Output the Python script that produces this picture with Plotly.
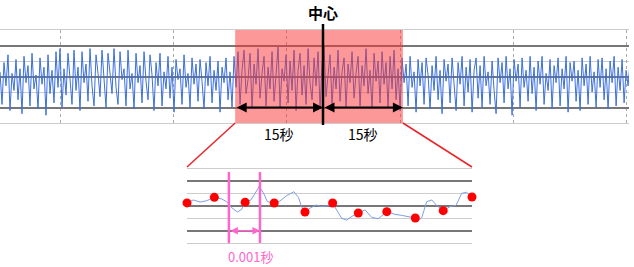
import numpy as np
import plotly.graph_objects as go

# ---------------- data ----------------
# top panel: vibration signal (one value every ~0.353 s)
signal = [
    0.3, -1.8, 0.9, -0.6, 1.4, -2.2, 0.2, -0.9, 1.1, -1.5,
    0.5, -2.4, 1.3, -0.4, 0.7, -1.9, 1.5, -0.8, 0.1, -2.1,
    1.2, -0.5, 0.6, -2.5, 1.4, -1.1, 0.4, -1.7, 1.6, -0.7,
    1.8, -2.0, 0.5, -1.2, 1.5, -0.3, -1.8, 1.7, -0.9, 0.6,
    -2.2, 1.6, -0.4, 0.8, -1.6, 1.8, -0.6, -1.9, 1.4, 0.2,
    -1.3, 1.7, -0.5, -2.0, 1.5, 0.3, -1.1, 1.8, -0.7, -1.8,
    1.6, -0.2, 0.5, -1.9, 1.7, -0.8, 0.2, -2.1, 1.5, -0.4,
    0.7, -1.7, 1.6, -0.3, -1.5, 1.4, 0.1, -2.2, 0.9, -0.6,
    1.5, -1.9, 0.3, -0.8, 1.3, -1.4, 0.6, -2.3, 1.1, -0.2,
    0.5, -1.8, 1.4, -0.7, 0.2, -2.0, 1.2, -0.5, 0.8, -1.6,
    1.1, -0.3, -2.1, 0.9, -0.6, 1.3, -1.7, 0.4, -0.9, 1.0,
    -2.3, 0.6, -0.4, 1.2, -1.5, 0.3, -2.0, 1.3, -0.7, 1.6,
    -1.8, 0.4, 1.7, -1.1, -0.2, 1.5, -2.1, 0.8, -0.5, 1.8,
    -1.4, 0.2, 1.3, -1.9, 0.6, -0.8, 1.6, -1.6, 0.3, 1.9,
    -2.0, 0.5, -0.3, 1.4, -1.7, 1.0, -0.9, 1.7, -2.2, 0.4,
    1.5, -1.2, 0.7, -1.8, 1.8, -0.4, -1.5, 1.2, -0.6, 1.6,
    -2.1, 0.9, 1.9, -1.3, 0.1, 1.4, -1.9, 0.6, -0.8, 1.7,
    -1.6, 0.3, 1.2, -2.0, 0.8, -0.4, 1.6, -1.4, 0.2, 1.3,
    -1.9, 0.7, -0.6, 1.8, -1.1, 0.4, -2.1, 1.5, -0.3, 1.0,
    -1.7, 1.6, -0.5, 0.9, -2.0, 1.3, -0.8, 1.7, -1.5, 0.5,
    -2.2, 1.2, -0.4, 0.8, -1.9, 1.3, -0.7, 0.3, -2.3, 1.1,
    -0.6, 0.9, -1.8, 1.2, 0.1, -2.1, 0.7, -0.9, 1.3, -1.5,
    0.4, -2.4, 1.1, -0.3, 0.8, -1.7, 1.2, -0.8, -2.2, 0.9,
    -0.5, 1.3, -1.9, 0.6, -1.0, 1.1, -2.3, 0.4, 1.2, -1.4,
    0.7, -2.0, 1.3, -0.6, 0.3, -1.8, 1.0, -0.9, -2.4, 1.2,
    -0.4, 0.9, -1.7, 1.3, -0.8, 0.5, -2.5, 1.1, -0.3, 0.8,
    -2.0, 1.2, -0.7, 0.4, -1.6, 1.3, -1.1, 0.6, -2.2, 1.0,
    -0.5, 1.3, -1.8, 0.2, -0.9, 1.1, -2.1, 0.7, -0.4, 1.2,
    -1.9, 0.5, -0.8, 1.3, -2.3, 0.9, -0.3, 1.0, -1.6, 0.4,
    -2.2, 1.2, -0.6, 0.8, -1.8, 1.3, -1.0, 0.3, -2.0, 1.1,
    -0.7, 1.2, -1.5, 0.5, -2.1, 1.0, -0.4, 1.3, -1.9, 0.6,
    -0.9, 1.1, -1.7, 0.4, -0.6, 1.0,
]
SAMPLE_DT = 0.353          # seconds between samples
T_RANGE = [0, 111]
REGION_START, CENTER, REGION_END = 41.5, 57.0, 71.1

# bottom panel: zoomed waveform (x in sample units of 0.001 s)
zoom_x = [0.0, 0.22, 0.46, 0.69, 0.96, 1.22, 1.39, 1.57, 1.77, 1.92, 2.04, 2.24,
          2.39, 2.53, 2.68, 2.82, 3.06, 3.26, 3.50, 3.75, 3.91, 4.02, 4.14, 4.34,
          4.53, 4.72, 4.92, 5.11, 5.25, 5.43, 5.60, 5.81, 6.01, 6.25, 6.48, 6.71,
          7.01, 7.30, 7.53, 7.82, 8.01, 8.08, 8.24, 8.41, 8.59, 8.78, 8.99, 9.23,
          9.44, 9.64, 9.81, 10.0]
zoom_y = [0.25, 0.49, 0.32, 0.43, 0.70, 0.57, 0.35, -0.14, -0.49, -0.27, 0.30, 0.49,
          1.03, 1.57, 1.08, 0.35, 0.24, 0.41, 0.84, 1.16, 0.70, -0.05, -0.49, -0.14,
          0.08, -0.05, 0.0, 0.24, -0.32, -1.0, -1.14, -0.81, -0.57, -0.32, -0.92, -1.03,
          -0.46, -0.68, -0.76, -0.89, -0.97, -1.30, -0.92, 0.35, 0.49, 0.0, -0.38, -0.05,
          0.05, 1.03, 1.11, 0.73]
dot_x = [0, 0.96, 2.04, 3.06, 4.14, 5.11, 6.01, 7.01, 8.01, 8.99, 10.0]
dot_y = [0.25, 0.70, 0.30, 0.24, -0.49, 0.24, -0.57, -0.46, -0.97, -0.38, 0.73]
MARK_A, MARK_B = 1.47, 2.56   # 0.001 s interval markers

# ---------------- layout constants ----------------
W, H = 634, 267
X1_DOM = [0, 629 / W]
Y1_DOM = [(H - 123) / H, (H - 30) / H]
X2_DOM = [187 / W, 472 / W]
Y2_DOM = [(H - 243) / H, (H - 169) / H]
FONT = "Noto Sans CJK JP, Noto Sans, sans-serif"
PINK = "#ff66cc"


def to_paper_x(t):
    return X1_DOM[0] + (t - T_RANGE[0]) / (T_RANGE[1] - T_RANGE[0]) * (X1_DOM[1] - X1_DOM[0])


t = np.arange(len(signal)) * SAMPLE_DT

fig = go.Figure()
fig.add_trace(go.Scatter(x=t, y=signal, mode="lines",
                         line=dict(color="#3b6fe0", width=1),
                         xaxis="x", yaxis="y", hoverinfo="skip"))
fig.add_trace(go.Scatter(x=zoom_x, y=zoom_y, mode="lines",
                         line=dict(color="#7d9ee8", width=1),
                         xaxis="x2", yaxis="y2", hoverinfo="skip"))
fig.add_trace(go.Scatter(x=dot_x, y=dot_y, mode="markers",
                         marker=dict(color="#ff0000", size=9),
                         xaxis="x2", yaxis="y2", cliponaxis=False, hoverinfo="skip"))

ygrid = dict(range=[-3, 3], dtick=2, tick0=0, showgrid=True, gridcolor="#777777",
             gridwidth=1.5, minor=dict(dtick=1, tick0=0, showgrid=True,
                                       gridcolor="#cccccc", gridwidth=1),
             showticklabels=False, zeroline=False, showline=False, ticks="")

fig.update_layout(
    width=W, height=H, margin=dict(l=0, r=0, t=0, b=0),
    paper_bgcolor="white", plot_bgcolor="white", showlegend=False,
    font=dict(family=FONT, color="black"),
    xaxis=dict(domain=X1_DOM, range=T_RANGE, anchor="y", tick0=10.6, dtick=20,
               showgrid=True, gridcolor="#aaaaaa", griddash="dot", gridwidth=1,
               showticklabels=False, zeroline=False, ticks="",
               showline=True, mirror=True, linecolor="#cccccc", linewidth=1),
    yaxis=dict(domain=Y1_DOM, anchor="x", **ygrid),
    xaxis2=dict(domain=X2_DOM, range=[0, 10], anchor="y2", tickvals=[0, 10],
                showgrid=True, gridcolor="#aaaaaa", griddash="dot", gridwidth=1,
                showticklabels=False, zeroline=False, ticks="",
                showline=True, mirror=True, linecolor="#cccccc", linewidth=1),
    yaxis2=dict(domain=Y2_DOM, anchor="x2", **ygrid),
)

shapes = [
    # highlighted +-15 s region
    dict(type="rect", xref="x", yref="y domain", x0=REGION_START, x1=REGION_END,
         y0=0, y1=1, fillcolor="rgba(250,50,50,0.5)", line=dict(width=0), layer="above"),
    # center line
    dict(type="line", xref="paper", yref="paper", x0=to_paper_x(CENTER), x1=to_paper_x(CENTER),
         y0=(H - 125) / H, y1=(H - 24) / H, line=dict(color="black", width=2.5)),
    # connecting lines to zoom panel
    dict(type="line", xref="paper", yref="paper", x0=to_paper_x(REGION_START), y0=Y1_DOM[0],
         x1=X2_DOM[0], y1=(H - 167) / H, line=dict(color="#e8252a", width=1.5)),
    dict(type="line", xref="paper", yref="paper", x0=to_paper_x(REGION_END), y0=Y1_DOM[0],
         x1=X2_DOM[1], y1=(H - 167) / H, line=dict(color="#e8252a", width=1.5)),
    # 0.001 s markers
    dict(type="line", xref="x2", yref="y2", x0=MARK_A, x1=MARK_A, y0=-3, y1=2.76,
         line=dict(color=PINK, width=2.5)),
    dict(type="line", xref="x2", yref="y2", x0=MARK_B, x1=MARK_B, y0=-3, y1=2.76,
         line=dict(color=PINK, width=2.5)),
]
fig.update_layout(shapes=shapes)

ann = []
for a, b in [(REGION_START, CENTER), (CENTER, REGION_END)]:
    ann.append(dict(xref="x", yref="y", axref="x", ayref="y", x=b, y=-2, ax=a, ay=-2,
                    text="", showarrow=True, arrowside="end+start", arrowhead=2,
                    arrowsize=1, arrowwidth=2, arrowcolor="black"))
    ann.append(dict(xref="x", yref="paper", x=(a + b) / 2, y=(H - 134) / H, text="15秒",
                    xanchor="center", yanchor="middle", showarrow=False,
                    font=dict(size=14, color="black", family=FONT)))
ann.append(dict(xref="paper", yref="paper", x=to_paper_x(CENTER), y=(H - 12) / H,
                text="<b>中心</b>", xanchor="center", yanchor="middle", showarrow=False,
                font=dict(size=15, color="black", family=FONT)))
ann.append(dict(xref="x2", yref="y2", axref="x2", ayref="y2", x=MARK_B, y=-2,
                ax=MARK_A, ay=-2, text="", showarrow=True, arrowside="end+start",
                arrowhead=2, arrowsize=1, arrowwidth=1.5, arrowcolor=PINK))
ann.append(dict(xref="x2", yref="paper", x=(MARK_A + MARK_B) / 2 + 0.2, y=(H - 256) / H,
                text="0.001秒", xanchor="center", yanchor="middle", showarrow=False,
                borderpad=0, font=dict(size=13, color=PINK, family=FONT)))
fig.update_layout(annotations=ann)

fig.write_html("out.html")
